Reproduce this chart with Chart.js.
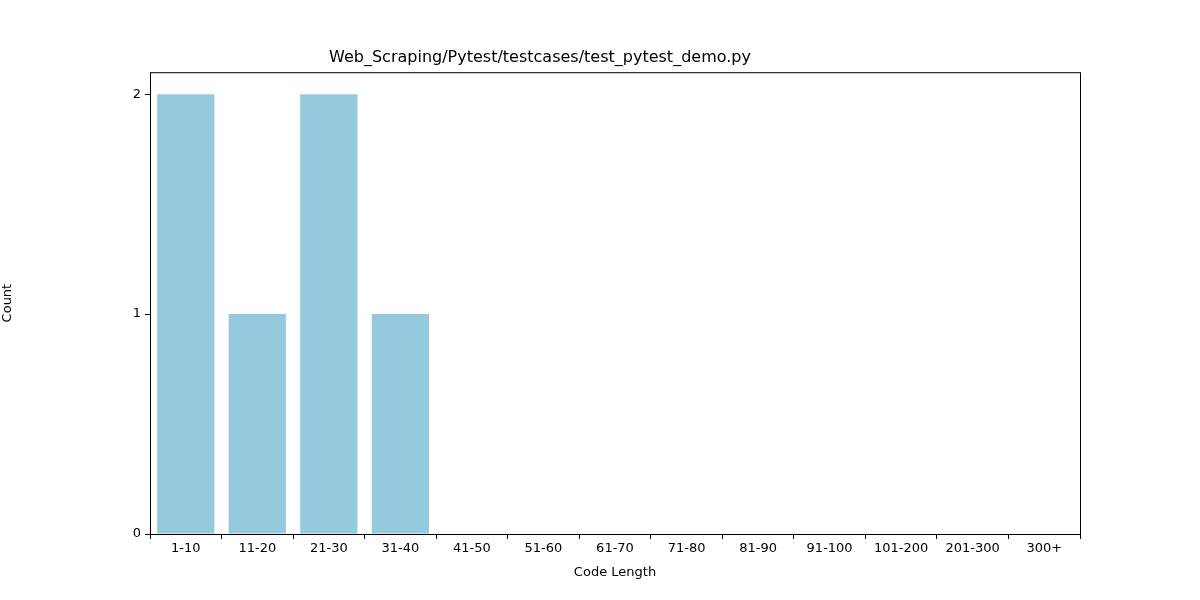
<!DOCTYPE html>
<html>
<head>
<meta charset="utf-8">
<script src="https://cdn.jsdelivr.net/npm/chart.js@4"></script>
<style>body{margin:0;background:#fff}</style>
</head>
<body>
<canvas id="c" width="1200" height="600"></canvas>
<script>
const categories = ["1-10","11-20","21-30","31-40","41-50","51-60","61-70","71-80","81-90","91-100","101-200","201-300","300+"];
const counts = [2,1,2,1,0,0,0,0,0,0,0,0,0];
const yTicks = [0,1,2];

// top and right frame lines (matplotlib-style box)
const frame = {
    id: "frame",
    afterDraw(chart) {
        const a = chart.chartArea, ctx = chart.ctx;
        ctx.save();
        ctx.strokeStyle = "#000";
        ctx.lineWidth = 1;
        ctx.strokeRect(a.left + 0.5, a.top + 0.5, a.right - a.left, a.bottom - a.top);
        ctx.restore();
    }
};

new Chart(document.getElementById("c"), {
    type: "bar",
    data: {
        labels: categories,
        datasets: [{ data: counts, backgroundColor: "#95c9dd", barPercentage: 0.8, categoryPercentage: 1 }]
    },
    options: {
        responsive: false,
        animation: false,
        layout: { padding: { left: 0, right: 120, top: 0, bottom: 0 } },
        plugins: {
            legend: { display: false },
            tooltip: { enabled: false },
            title: {
                display: true,
                text: "Web_Scraping/Pytest/testcases/test_pytest_demo.py",
                color: "#000",
                font: { family: "DejaVu Sans", size: 16, weight: "normal" },
                padding: { top: 48, bottom: 5 }
            }
        },
        scales: {
            x: {
                offset: true,
                grid: { display: true, drawOnChartArea: false, color: "#000", tickLength: 5 },
                border: { color: "#000" },
                ticks: { color: "#000", font: { family: "DejaVu Sans", size: 13 }, maxRotation: 0, padding: 2 },
                title: { display: true, text: "Code Length", color: "#000", font: { family: "DejaVu Sans", size: 13 }, padding: { top: 2, bottom: 20 } },
                afterFit(s) { s.height = 66; }
            },
            y: {
                min: 0, max: 2.1,
                afterBuildTicks(s) { s.ticks = yTicks.map(v => ({ value: v })); },
                grid: { display: true, drawOnChartArea: false, color: "#000", tickLength: 5 },
                border: { color: "#000" },
                ticks: { color: "#000", font: { family: "DejaVu Sans", size: 13 }, padding: 4 },
                title: { display: true, text: "Count", color: "#000", font: { family: "DejaVu Sans", size: 13 }, padding: 0 },
                afterFit(s) { s.width = 150; }
            }
        }
    },
    plugins: [frame]
});
</script>
</body>
</html>
